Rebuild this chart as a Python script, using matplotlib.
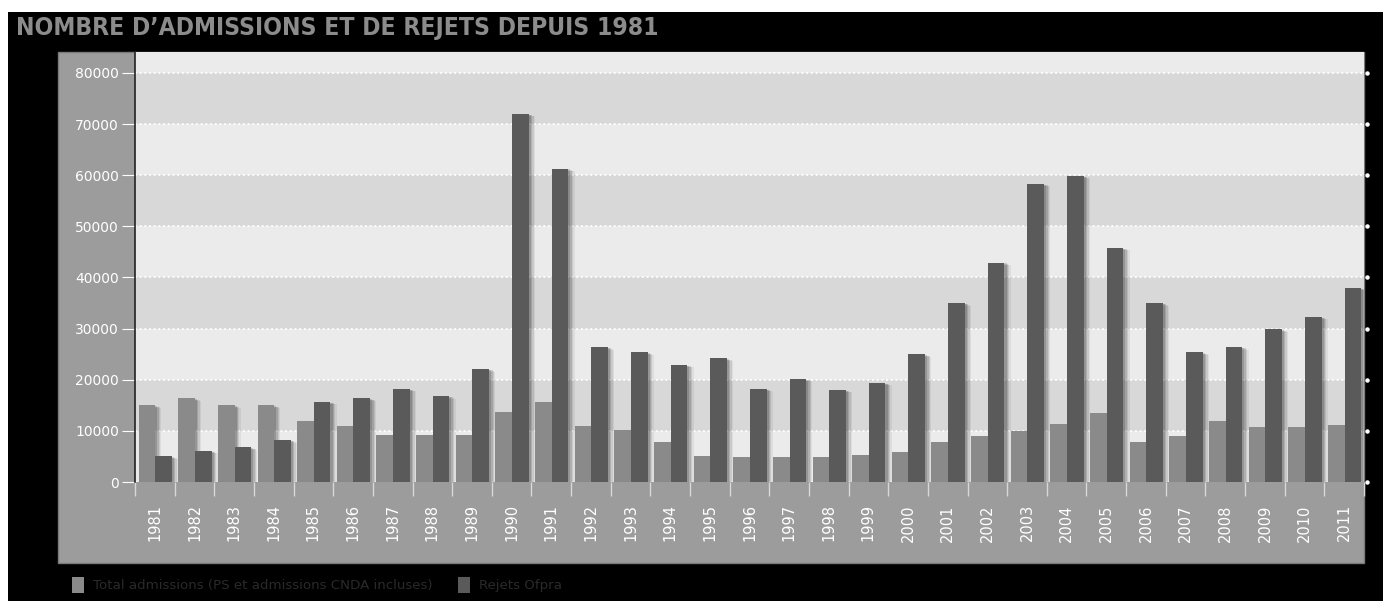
import matplotlib
matplotlib.use("Agg")
import matplotlib.pyplot as plt
import matplotlib.patheffects as pe
from matplotlib.patches import Rectangle
import numpy as np

years = [str(y) for y in range(1981, 2012)]
admissions = [15000, 16400, 15000, 15000, 12000, 11000, 9200, 9200, 9200, 13700,
              15600, 11000, 10200, 7800, 5100, 4900, 4900, 4900, 5300, 5900,
              7800, 9000, 10000, 11300, 13500, 7800, 9000, 12000, 10800, 10800,
              11200]
rejets = [5000, 6100, 6800, 8200, 15700, 16400, 18200, 16800, 22100, 72000,
          61300, 26400, 25400, 22900, 24200, 18200, 20200, 18000, 19400, 25000,
          35000, 42900, 58300, 59900, 45800, 35000, 25400, 26400, 29900, 32300,
          38000]
yticks = [0, 10000, 20000, 30000, 40000, 50000, 60000, 70000, 80000]
title = "NOMBRE D\u2019ADMISSIONS ET DE REJETS DEPUIS 1981"
legend_labels = ["Total admissions (PS et admissions CNDA incluses)", "Rejets Ofpra"]

C_ADM = "#8a8a8a"
C_REJ = "#5a5a5a"
C_PANEL = "#9c9c9c"
C_BAND1 = "#ebebeb"
C_BAND2 = "#d8d8d8"

W, H = 1383, 601
fig = plt.figure(figsize=(W / 100, H / 100), dpi=100, facecolor="black")

# white margins (top and left)
fig.patches.append(Rectangle((0, 1 - 12 / H), 1, 12 / H, transform=fig.transFigure,
                             facecolor="white", lw=0, zorder=-10))
fig.patches.append(Rectangle((0, 0), 8 / W, 1, transform=fig.transFigure,
                             facecolor="white", lw=0, zorder=-10))

# grey panel behind axes + tick labels
panel = Rectangle((58 / W, 1 - 563 / H), (1364 - 58) / W, (563 - 52) / H,
                  transform=fig.transFigure, facecolor=C_PANEL,
                  edgecolor="#7a7a7a", linewidth=1, zorder=-5)
fig.patches.append(panel)

ax = fig.add_axes([135 / W, 1 - 482 / H, (1364 - 135) / W, (482 - 52) / H])
ax.set_zorder(2)
ax.set_facecolor(C_BAND1)
ymax = 84100
ax.set_ylim(0, ymax)
ax.set_xlim(-0.5, len(years) - 0.5)

# alternating bands
for i in range(9):
    lo = i * 10000
    hi = min((i + 1) * 10000, ymax)
    ax.axhspan(lo, hi, color=C_BAND1 if i % 2 == 0 else C_BAND2, zorder=0, lw=0)

# gridlines
for t in yticks:
    ax.axhline(t, color="white", lw=1.3, linestyle=(0, (1, 1.6)), zorder=1)
    ax.plot([len(years) - 0.5 + 0.08], [t], marker="o", ms=2.2, color="white",
            clip_on=False, zorder=5)

x = np.arange(len(years))
w = 0.42
shadow = [pe.SimplePatchShadow(offset=(o, -o * 0.4), shadow_rgbFace="black", alpha=a)
          for o, a in [(4.5, 0.06), (3.5, 0.09), (2.5, 0.12), (1.5, 0.15)]] + [pe.Normal()]
b1 = ax.bar(x - 0.2, admissions, width=w, color=C_ADM, zorder=3)
b2 = ax.bar(x + 0.22, rejets, width=w, color=C_REJ, zorder=3)
for b in list(b1) + list(b2):
    b.set_path_effects(shadow)

for s in ["top", "right", "bottom"]:
    ax.spines[s].set_visible(False)
ax.spines["left"].set_color("#222222")
ax.spines["left"].set_linewidth(1.2)

ax.set_yticks(yticks)
ax.set_yticklabels([str(t) for t in yticks])
ax.tick_params(axis="y", colors="white", labelcolor="white", length=9.5, width=0.8,
               pad=2, labelsize=10)
ax.set_xticks(x)
ax.set_xticklabels(years, rotation=90)
ax.tick_params(axis="x", which="major", length=0, pad=16, labelsize=10.5,
               labelcolor="white")
ax.set_xticks(np.arange(len(years) + 1) - 0.5, minor=True)
ax.tick_params(axis="x", which="minor", length=10, width=1, color="#d8d8d8")

fig.text(16 / W, 1 - 28 / H, title, color="#8c8c8c", fontsize=17.7, fontweight="bold",
         fontstretch="condensed", va="center", ha="left")

# legend
for xs, col, lab in [(72, C_ADM, legend_labels[0]), (458, C_REJ, legend_labels[1])]:
    fig.patches.append(Rectangle((xs / W, 1 - 593 / H), 12 / W, 16 / H,
                                 transform=fig.transFigure, facecolor=col, lw=0))
    fig.text((xs + 21) / W, 1 - 585 / H, lab, color="#2a2a2a", fontsize=9.6,
             va="center", ha="left")

fig.savefig("out.png", dpi=100, facecolor="black")
